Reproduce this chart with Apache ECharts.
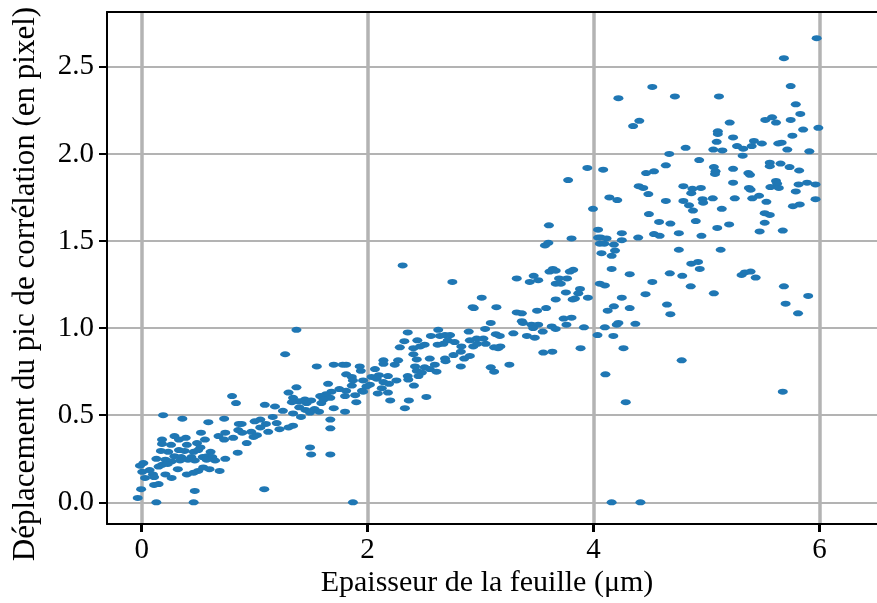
<!DOCTYPE html>
<html>
<head>
<meta charset="utf-8">
<script src="https://cdn.jsdelivr.net/npm/echarts@6/dist/echarts.min.js"></script>
<style>
  html, body { margin: 0; padding: 0; background: #fff; }
  #chart { width: 877px; height: 603px; }
</style>
</head>
<body>
<div id="chart"></div>
<script>
// Axis ticks and titles
const xTicks = [0, 2, 4, 6];
const yTicks = [0, 0.5, 1.0, 1.5, 2.0, 2.5];
const xTitle = 'Epaisseur de la feuille (μm)';
const yTitle = 'Déplacement du pic de corrélation (en pixel)';

// Measurements: [thickness (µm), correlation peak shift (px)]
const samples1 = [
  [0.80,0.61],[0.835,0.57],[0.19,0.50],[0.36,0.48],[0.59,0.46],[0.73,0.48],[0.86,0.45],[0.855,0.415],
  [0.89,0.40],[0.525,0.40],[0.74,0.40],[0.68,0.38],[0.29,0.38],[0.39,0.37],[0.18,0.36],[0.33,0.36],
  [0.56,0.36],[0.73,0.36],[0.81,0.37],[0.49,0.34],[0.93,0.34],[0.18,0.335],[0.26,0.33],[0.40,0.33],
  [0.52,0.315],[0.235,0.29],[0.33,0.30],[0.38,0.295],[0.17,0.295],[0.46,0.29],[0.50,0.30],[0.61,0.29],
  [0.85,0.285],[0.29,0.265],[0.35,0.26],[0.44,0.26],[0.54,0.26],[0.58,0.265],[0.625,0.26],[0.13,0.25],
  [0.21,0.245],[0.41,0.245],[0.74,0.25],[0.015,0.225],[0.265,0.235],[0.34,0.24],[0.47,0.24],[0.575,0.245],
  [0.65,0.24],[0.18,0.215],[0.23,0.22],[0.15,0.205],[-0.015,0.21],[0.545,0.20],[0.60,0.19],[0.32,0.19],
  [0.69,0.18],[0.07,0.185],[0.10,0.16],[0.50,0.18],[0.46,0.17],[0.40,0.16],[0.21,0.16],[0.11,0.145],
  [0.03,0.14],[0.265,0.14],[0.15,0.105],[0.11,0.10],[-0.005,0.075],[0.47,0.065],[-0.035,0.025],[0.13,0.0],
  [0.46,0.0],[0.005,0.175]
];
const samples2 = [
  [1.37,0.99],[1.27,0.85],[1.55,0.78],[1.70,0.79],[1.78,0.79],[1.81,0.79],[1.93,0.78],[1.94,0.755],
  [1.81,0.735],[1.86,0.72],[1.87,0.70],[1.65,0.68],[1.96,0.70],[1.86,0.67],[1.37,0.66],[1.75,0.65],
  [1.81,0.64],[1.95,0.64],[1.30,0.63],[1.68,0.635],[1.63,0.62],[1.58,0.61],[1.80,0.61],[1.89,0.615],
  [1.34,0.60],[1.445,0.59],[1.67,0.60],[1.50,0.585],[1.61,0.59],[1.39,0.58],[1.90,0.575],[1.33,0.575],
  [1.46,0.57],[1.59,0.57],[1.09,0.56],[1.18,0.55],[1.395,0.545],[1.70,0.54],[1.53,0.535],[1.45,0.53],
  [1.25,0.525],[1.34,0.51],[1.49,0.515],[1.57,0.52],[1.80,0.52],[1.41,0.49],[1.05,0.475],[1.16,0.49],
  [1.67,0.475],[1.00,0.465],[1.10,0.45],[1.195,0.455],[1.34,0.44],[0.885,0.45],[1.05,0.43],[1.30,0.43],
  [1.22,0.42],[1.67,0.425],[1.12,0.405],[0.97,0.405],[1.02,0.385],[0.99,0.375],[1.49,0.315],[1.50,0.275],
  [1.67,0.275],[1.085,0.075],[1.87,0.0]
];
const samples3 = [
  [2.31,1.36],[2.75,1.265],[2.93,1.12],[2.355,0.975],[2.625,0.99],[2.895,0.98],[2.325,0.925],[2.44,0.93],
  [2.56,0.955],[2.64,0.955],[2.685,0.96],[2.73,0.96],[2.71,0.93],[2.77,0.92],[2.905,0.93],[2.285,0.89],
  [2.405,0.885],[2.465,0.895],[2.505,0.905],[2.62,0.905],[2.67,0.91],[2.83,0.895],[2.935,0.895],[2.825,0.865],
  [2.405,0.85],[2.76,0.845],[2.435,0.82],[2.55,0.825],[2.685,0.825],[2.855,0.825],[2.14,0.815],[2.27,0.815],
  [2.69,0.81],[2.14,0.795],[2.24,0.79],[2.825,0.78],[2.42,0.78],[2.595,0.79],[2.505,0.775],[2.55,0.765],
  [2.065,0.765],[2.435,0.755],[2.61,0.75],[2.48,0.745],[2.10,0.73],[2.18,0.725],[2.355,0.725],[2.45,0.725],
  [2.035,0.72],[2.08,0.71],[2.255,0.70],[2.36,0.705],[2.14,0.69],[2.02,0.675],[2.19,0.68],[1.99,0.665],
  [2.41,0.67],[2.125,0.655],[1.96,0.635],[2.18,0.63],[2.09,0.625],[2.52,0.605],[2.20,0.585],[2.365,0.585],
  [2.33,0.54]
];
const samples4 = [
  [3.805,1.515],[3.57,1.475],[3.60,1.49],[3.64,1.34],[3.61,1.325],[3.665,1.33],[3.79,1.325],[3.82,1.335],
  [3.32,1.285],[3.47,1.30],[3.435,1.265],[3.51,1.275],[3.695,1.285],[3.765,1.285],[3.665,1.255],[3.71,1.255],
  [3.88,1.225],[3.755,1.205],[3.865,1.20],[3.95,1.175],[3.01,1.175],[3.835,1.17],[3.815,1.165],[3.665,1.165],
  [2.94,1.115],[3.14,1.12],[3.58,1.115],[3.32,1.09],[3.365,1.085],[3.50,1.10],[3.735,1.055],[3.805,1.06],
  [3.365,1.04],[3.375,1.03],[3.09,1.03],[3.45,1.02],[3.51,1.02],[3.63,1.01],[3.76,1.02],[3.915,1.005],
  [3.04,0.995],[3.465,1.0],[3.665,0.995],[3.55,0.98],[3.29,0.97],[3.135,0.965],[3.17,0.955],[3.41,0.955],
  [3.48,0.945],[2.965,0.94],[3.025,0.94],[2.97,0.91],[3.045,0.91],[3.12,0.89],[3.175,0.895],[3.155,0.885],
  [3.885,0.885],[3.555,0.86],[3.635,0.865],[2.905,0.84],[3.255,0.79],[3.09,0.775],[3.12,0.75]
];
const samples5 = [
  [4.04,1.565],[4.04,1.52],[4.065,1.52],[4.115,1.515],[4.25,1.545],[4.25,1.505],[4.395,1.52],[4.535,1.54],
  [4.585,1.53],[4.755,1.545],[4.955,1.53],[4.055,1.485],[4.095,1.485],[4.18,1.48],[4.19,1.445],[4.07,1.43],
  [4.16,1.415],[4.755,1.45],[4.865,1.37],[4.925,1.38],[4.94,1.34],[4.16,1.34],[4.32,1.31],[4.675,1.315],
  [4.785,1.30],[4.055,1.255],[4.10,1.245],[4.52,1.265],[4.86,1.24],[4.25,1.175],[4.46,1.195],[4.18,1.125],
  [4.125,1.10],[4.32,1.115],[4.65,1.135],[4.68,1.08],[4.22,1.03],[4.205,1.02],[4.37,1.025],[4.10,1.005],
  [4.035,0.96],[4.175,0.955],[4.265,0.885],[4.78,0.815],[4.105,0.735],[4.285,0.575],[4.16,0.0],[4.415,0.0]
];
const samples6 = [
  [5.765,1.70],[5.825,1.71],[5.135,1.685],[5.055,1.745],[5.25,1.745],[5.405,1.745],[5.465,1.76],[5.965,1.74],
  [5.53,1.725],[5.515,1.66],[5.56,1.65],[5.515,1.605],[5.20,1.595],[5.095,1.575],[5.47,1.555],[5.675,1.56],
  [5.125,1.45],[5.31,1.305],[5.34,1.32],[5.39,1.325],[5.435,1.29],[5.685,1.24],[5.065,1.20],[5.90,1.185],
  [5.70,1.14],[5.81,1.085],[5.675,0.635]
];
const samples7 = [
  [4.52,2.385],[4.72,2.33],[4.22,2.32],[4.405,2.19],[4.35,2.16],[4.815,2.035],[4.67,2.0],[4.935,1.965],
  [3.945,1.92],[4.085,1.91],[4.64,1.935],[4.535,1.90],[4.465,1.89],[3.775,1.85],[4.40,1.815],[4.44,1.805],
  [4.795,1.815],[4.875,1.80],[4.865,1.775],[4.95,1.805],[4.485,1.77],[4.14,1.75],[4.21,1.735],[4.64,1.73],
  [4.795,1.73],[4.845,1.705],[4.965,1.74],[4.97,1.72],[3.995,1.685],[4.88,1.675],[4.49,1.655],[3.605,1.59],
  [4.58,1.61],[4.68,1.60],[4.905,1.615]
];
const samples8 = [
  [5.975,2.665],[5.685,2.55],[5.745,2.39],[5.11,2.33],[5.79,2.285],[5.83,2.23],[5.52,2.195],[5.58,2.21],
  [5.615,2.18],[5.745,2.195],[5.205,2.18],[5.10,2.13],[5.10,2.115],[5.855,2.14],[5.99,2.15],[5.235,2.095],
  [5.76,2.105],[5.09,2.07],[5.42,2.075],[5.49,2.06],[5.27,2.045],[5.325,2.03],[5.40,2.045],[5.635,2.06],
  [5.665,2.065],[5.06,2.025],[5.14,2.02],[5.715,2.025],[5.91,2.015],[5.32,1.99],[5.56,1.95],[5.56,1.93],
  [5.655,1.945],[5.065,1.925],[5.235,1.915],[5.735,1.925],[5.82,1.905],[5.08,1.90],[5.075,1.885],[5.37,1.89],
  [5.385,1.88],[5.235,1.835],[5.615,1.845],[5.625,1.83],[5.815,1.825],[5.89,1.835],[5.965,1.825],[5.375,1.805],
  [5.39,1.795],[5.565,1.81],[5.64,1.805],[5.79,1.785]
];

const allSamples = [].concat(samples1, samples2, samples3, samples4,
                             samples5, samples6, samples7, samples8);

const FONT = '"Liberation Serif", "Times New Roman", serif';
const X_MIN = -0.307, X_MAX = 6.509;
const chart = echarts.init(document.getElementById('chart'), null, { renderer: 'canvas' });

chart.setOption({
  animation: false,
  backgroundColor: '#fff',
  grid: { left: 107, top: 12, right: 0, bottom: 79 },
  xAxis: [
    {
      type: 'value',
      min: X_MIN,
      max: X_MAX,
      axisLine: { onZero: false, lineStyle: { color: '#000', width: 2 } },
      axisTick: { customValues: xTicks, length: 8, lineStyle: { color: '#000', width: 3 } },
      axisLabel: {
        customValues: xTicks, margin: 12, color: '#000',
        fontFamily: FONT, fontSize: 29,
        formatter: v => String(v)
      },
      splitLine: { show: true, lineStyle: { color: '#b3b3b3', width: 3.5 } }
    },
    {
      // top frame line
      type: 'value',
      position: 'top',
      min: X_MIN,
      max: X_MAX,
      axisLine: { show: true, onZero: false, lineStyle: { color: '#000', width: 2 } },
      axisTick: { show: false },
      axisLabel: { show: false },
      splitLine: { show: false }
    }
  ],
  yAxis: {
    type: 'value',
    min: -0.1246,
    max: 2.815,
    axisLine: { onZero: false, lineStyle: { color: '#000', width: 2 } },
    axisTick: { customValues: yTicks, length: 8, lineStyle: { color: '#000', width: 2 } },
    axisLabel: {
      customValues: yTicks, margin: 13, color: '#000',
      fontFamily: FONT, fontSize: 29,
      formatter: v => v.toFixed(1)
    },
    splitLine: { show: true, lineStyle: { color: '#b3b3b3', width: 2 } }
  },
  series: [{
    type: 'scatter',
    xAxisIndex: 0,
    data: allSamples,
    symbol: 'circle',
    symbolSize: [10, 6],
    itemStyle: { color: '#1f77b4', opacity: 1 },
    silent: true
  }],
  graphic: [
    {
      type: 'text', x: 487, y: 583,
      style: {
        text: xTitle, fill: '#000', font: '30px ' + FONT,
        align: 'center', verticalAlign: 'middle'
      }
    },
    {
      type: 'text', x: 26, y: 284, rotation: Math.PI / 2,
      style: {
        text: yTitle, fill: '#000', font: '31px ' + FONT,
        align: 'center', verticalAlign: 'middle'
      }
    }
  ]
});
</script>
</body>
</html>
